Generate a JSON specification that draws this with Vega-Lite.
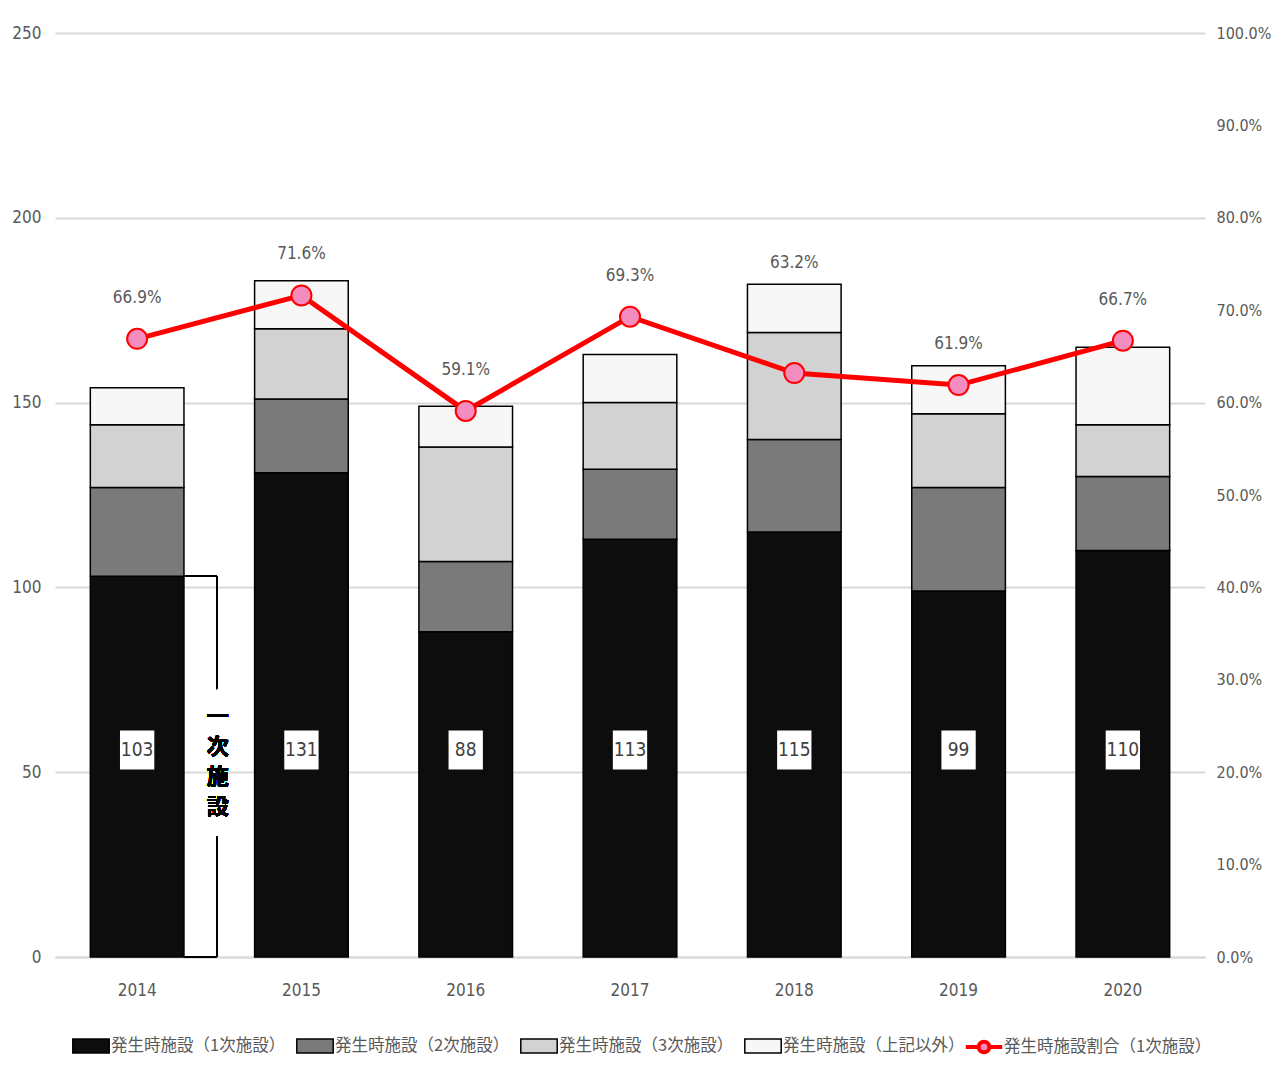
{
  "$schema": "https://vega.github.io/schema/vega-lite/v6.json",
  "width": 1150,
  "height": 924,
  "autosize": {"type": "none"},
  "padding": {"left": 55, "top": 33, "right": 67, "bottom": 130},
  "background": "white",
  "config": {
    "view": {"stroke": null},
    "font": "DejaVu Sans Condensed, Liberation Sans, sans-serif",
    "axis": {"labelFont": "DejaVu Sans Condensed, Liberation Sans, sans-serif", "labelFontSize": 17, "labelColor": "#595959", "title": null}
  },
  "datasets": {
    "bars": [
      {"year": "2014", "cat": "発生時施設（1次施設）", "k": 1, "value": 103},
      {"year": "2014", "cat": "発生時施設（2次施設）", "k": 2, "value": 24},
      {"year": "2014", "cat": "発生時施設（3次施設）", "k": 3, "value": 17},
      {"year": "2014", "cat": "発生時施設（上記以外）", "k": 4, "value": 10},
      {"year": "2015", "cat": "発生時施設（1次施設）", "k": 1, "value": 131},
      {"year": "2015", "cat": "発生時施設（2次施設）", "k": 2, "value": 20},
      {"year": "2015", "cat": "発生時施設（3次施設）", "k": 3, "value": 19},
      {"year": "2015", "cat": "発生時施設（上記以外）", "k": 4, "value": 13},
      {"year": "2016", "cat": "発生時施設（1次施設）", "k": 1, "value": 88},
      {"year": "2016", "cat": "発生時施設（2次施設）", "k": 2, "value": 19},
      {"year": "2016", "cat": "発生時施設（3次施設）", "k": 3, "value": 31},
      {"year": "2016", "cat": "発生時施設（上記以外）", "k": 4, "value": 11},
      {"year": "2017", "cat": "発生時施設（1次施設）", "k": 1, "value": 113},
      {"year": "2017", "cat": "発生時施設（2次施設）", "k": 2, "value": 19},
      {"year": "2017", "cat": "発生時施設（3次施設）", "k": 3, "value": 18},
      {"year": "2017", "cat": "発生時施設（上記以外）", "k": 4, "value": 13},
      {"year": "2018", "cat": "発生時施設（1次施設）", "k": 1, "value": 115},
      {"year": "2018", "cat": "発生時施設（2次施設）", "k": 2, "value": 25},
      {"year": "2018", "cat": "発生時施設（3次施設）", "k": 3, "value": 29},
      {"year": "2018", "cat": "発生時施設（上記以外）", "k": 4, "value": 13},
      {"year": "2019", "cat": "発生時施設（1次施設）", "k": 1, "value": 99},
      {"year": "2019", "cat": "発生時施設（2次施設）", "k": 2, "value": 28},
      {"year": "2019", "cat": "発生時施設（3次施設）", "k": 3, "value": 20},
      {"year": "2019", "cat": "発生時施設（上記以外）", "k": 4, "value": 13},
      {"year": "2020", "cat": "発生時施設（1次施設）", "k": 1, "value": 110},
      {"year": "2020", "cat": "発生時施設（2次施設）", "k": 2, "value": 20},
      {"year": "2020", "cat": "発生時施設（3次施設）", "k": 3, "value": 14},
      {"year": "2020", "cat": "発生時施設（上記以外）", "k": 4, "value": 21}
    ],
    "ratio": [
      {"year": "2014", "ratio": 0.669},
      {"year": "2015", "ratio": 0.716},
      {"year": "2016", "ratio": 0.591},
      {"year": "2017", "ratio": 0.693},
      {"year": "2018", "ratio": 0.632},
      {"year": "2019", "ratio": 0.619},
      {"year": "2020", "ratio": 0.667}
    ]
  },
  "encoding": {
    "x": {
      "field": "year", "type": "ordinal",
      "scale": {"paddingInner": 0.43, "paddingOuter": 0.215},
      "axis": {"labelAngle": 0, "ticks": false, "domainColor": "#d9d9d9", "domainWidth": 2, "labelPadding": 25}
    }
  },
  "layer": [
    {
      "data": {"name": "bars"},
      "layer": [
        {
          "mark": {"type": "bar", "stroke": "black", "strokeWidth": 1.5},
          "encoding": {
            "y": {
              "field": "value", "type": "quantitative", "stack": "zero",
              "scale": {"domain": [0, 250], "nice": false},
              "axis": {"values": [0, 50, 100, 150, 200, 250], "ticks": false, "domain": false, "gridColor": "#d9d9d9", "gridWidth": 2, "labelPadding": 14}
            },
            "fill": {
              "field": "cat", "type": "nominal",
              "scale": {
                "domain": ["発生時施設（1次施設）", "発生時施設（2次施設）", "発生時施設（3次施設）", "発生時施設（上記以外）"],
                "range": ["#0d0d0d", "#7a7a7a", "#d2d2d2", "#f7f7f7"]
              },
              "legend": {
                "title": null, "orient": "none", "direction": "horizontal", "columns": 4,
                "legendX": 21, "legendY": 998,
                "labelFont": "Noto Sans CJK JP", "labelFontSize": 16.5, "labelColor": "#595959",
                "symbolSize": 784, "symbolType": "M-1.3,-0.5H1.3V0.5H-1.3Z",
                "symbolStrokeColor": "black", "symbolStrokeWidth": 1.5,
                "labelOffset": 5, "columnPadding": 7, "labelLimit": 300
              }
            },
            "order": {"field": "k", "type": "quantitative"}
          }
        },
        {
          "transform": [{"filter": "datum.k == 1"}],
          "mark": {"type": "point", "shape": "M-0.88,-1H0.88V1H-0.88Z", "filled": true, "fill": "white", "opacity": 1, "size": 1521},
          "encoding": {"y": {"datum": 56}}
        },
        {
          "transform": [{"filter": "datum.k == 1"}],
          "mark": {"type": "text", "fontSize": 19, "color": "#404040", "baseline": "middle"},
          "encoding": {"y": {"datum": 56}, "text": {"field": "value", "type": "quantitative"}}
        },
        {
          "mark": {"type": "rule", "color": "black", "strokeWidth": 1.5},
          "encoding": {
            "x": {"datum": "2014", "bandPosition": 1.35},
            "y": {"datum": 0},
            "y2": {"datum": 32.5}
          }
        },
        {
          "mark": {"type": "rule", "color": "black", "strokeWidth": 1.5},
          "encoding": {
            "x": {"datum": "2014", "bandPosition": 1.35},
            "y": {"datum": 72.5},
            "y2": {"datum": 103}
          }
        },
        {
          "mark": {"type": "rule", "color": "black", "strokeWidth": 1.5},
          "encoding": {
            "x": {"datum": "2014", "bandPosition": 1},
            "x2": {"datum": "2014", "bandPosition": 1.35},
            "y": {"datum": 103}
          }
        },
        {
          "mark": {"type": "rule", "color": "black", "strokeWidth": 1.5},
          "encoding": {
            "x": {"datum": "2014", "bandPosition": 1},
            "x2": {"datum": "2014", "bandPosition": 1.35},
            "y": {"datum": 0}
          }
        },
        {
          "mark": {"type": "text", "text": ["一", "次", "施", "設"], "font": "Noto Sans CJK JP", "fontWeight": "bold", "fontSize": 22, "lineHeight": 30, "color": "black", "baseline": "middle"},
          "encoding": {
            "x": {"datum": "2014", "bandPosition": 1.36},
            "y": {"datum": 65}
          }
        }
      ]
    },
    {
      "data": {"name": "ratio"},
      "layer": [
        {
          "mark": {"type": "line", "strokeWidth": 5},
          "encoding": {
            "y": {
              "field": "ratio", "type": "quantitative",
              "scale": {"domain": [0, 1], "nice": false},
              "axis": {"orient": "right", "format": ".1%", "values": [0, 0.1, 0.2, 0.3, 0.4, 0.5, 0.6, 0.7, 0.8, 0.9, 1], "ticks": false, "domain": false, "grid": false, "labelPadding": 11, "labelFontSize": 16}
            },
            "stroke": {
              "datum": "発生時施設割合（1次施設）",
              "scale": {"range": ["#ff0000"]},
              "legend": {
                "title": null, "orient": "none", "legendX": 913, "legendY": 998,
                "labelFont": "Noto Sans CJK JP", "labelFontSize": 16.5, "labelColor": "#595959",
                "symbolSize": 784, "symbolType": "M-1.3,0H-0.38M0.38,0H1.3M0.38,0A0.38,0.38,0,1,1,-0.38,0A0.38,0.38,0,1,1,0.38,0Z",
                "symbolStrokeWidth": 4, "symbolFillColor": "#f48cc0",
                "labelOffset": 4, "labelLimit": 300,
                "encode": {"symbols": {"update": {"fill": {"value": "#f48cc0"}}}}
              }
            }
          }
        },
        {
          "mark": {"type": "point", "shape": "circle", "filled": true, "fill": "#f48cc0", "stroke": "#ff0000", "strokeWidth": 2, "opacity": 1, "size": 400},
          "encoding": {"y": {"field": "ratio", "type": "quantitative"}}
        },
        {
          "transform": [{"filter": "datum.year != '2018'"}],
          "mark": {"type": "text", "dy": -41, "fontSize": 17, "color": "#595959"},
          "encoding": {
            "y": {"field": "ratio", "type": "quantitative"},
            "text": {"field": "ratio", "type": "quantitative", "format": ".1%"}
          }
        },
        {
          "transform": [{"filter": "datum.year == '2018'"}],
          "mark": {"type": "text", "dy": -110, "fontSize": 17, "color": "#595959"},
          "encoding": {
            "y": {"field": "ratio", "type": "quantitative"},
            "text": {"field": "ratio", "type": "quantitative", "format": ".1%"}
          }
        }
      ]
    }
  ],
  "resolve": {"scale": {"y": "independent"}}
}
